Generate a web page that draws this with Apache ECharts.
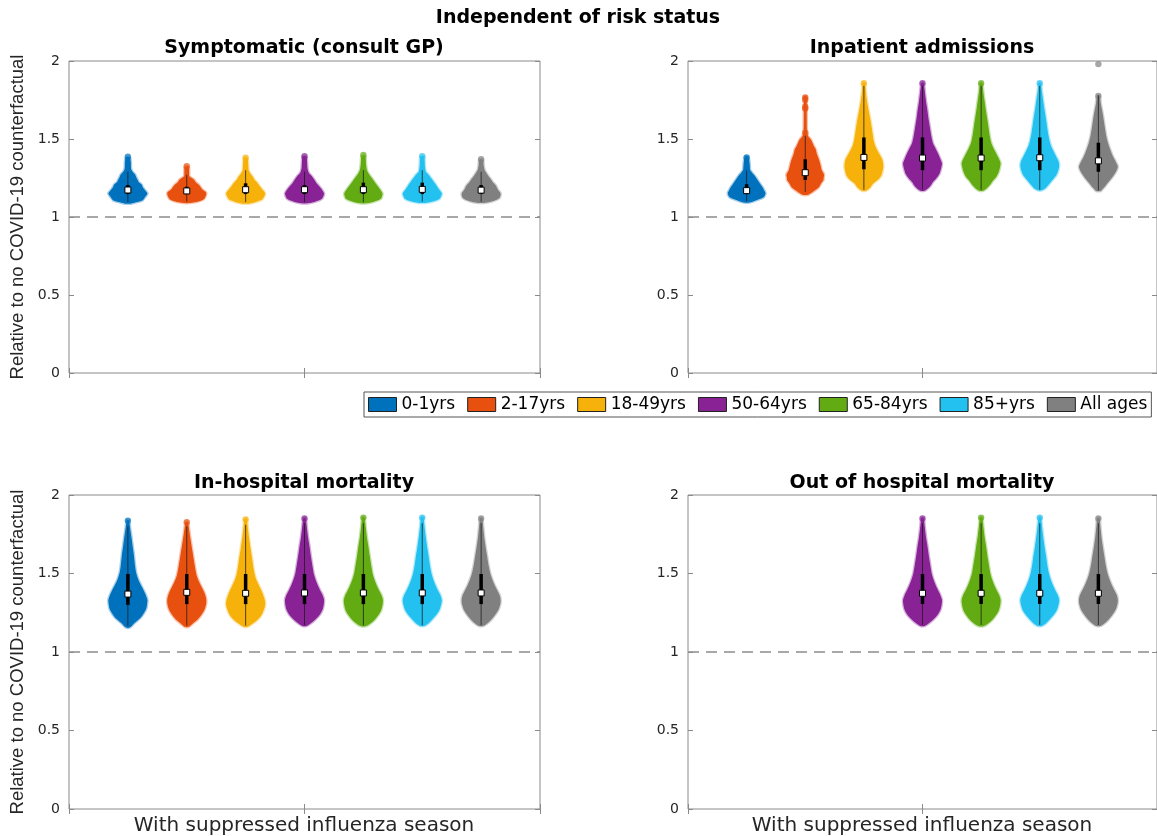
<!DOCTYPE html>
<html><head><meta charset="utf-8">
<script src="https://cdn.jsdelivr.net/npm/echarts@6/dist/echarts.min.js"></script>
<style>html,body{margin:0;padding:0;background:#fff}#c{width:1157px;height:836px}</style>
</head><body><div id="c"></div>
<script>
// ---------- DATA ----------
const groups = ['0-1yrs', '2-17yrs', '18-49yrs', '50-64yrs', '65-84yrs', '85+yrs', 'All ages'];
const panelTitles = ['Symptomatic (consult GP)', 'Inpatient admissions', 'In-hospital mortality', 'Out of hospital mortality'];
const mainTitle = 'Independent of risk status';
const yLabel = 'Relative to no COVID-19 counterfactual';
const xLabel = 'With suppressed influenza season';
const yTicks = [0, 0.5, 1, 1.5, 2];
const refLine = 1;

// Symptomatic (consult GP)
const sympMedian = [1.173, 1.167, 1.175, 1.175, 1.175, 1.177, 1.172];
const sympQ1 = [1.147, 1.147, 1.147, 1.147, 1.147, 1.147, 1.147];
const sympQ3 = [1.205, 1.194, 1.216, 1.205, 1.22, 1.22, 1.205];
const sympLo = [1.095, 1.098, 1.095, 1.095, 1.095, 1.098, 1.098];
const sympHi = [1.29, 1.27, 1.30, 1.29, 1.30, 1.30, 1.29];
const sympDots = [[1.387], [1.325], [1.38], [1.39], [1.397], [1.39], [1.37]];
const sympShape = [
  [[1.09,0.15],[1.096,0.35],[1.11,0.75],[1.125,0.85],[1.15,1.0],[1.173,0.85],[1.19,0.75],[1.205,0.7],[1.22,0.55],[1.237,0.48],[1.255,0.4],[1.27,0.35],[1.29,0.2],[1.31,0.13],[1.35,0.12],[1.38,0.08]],
  [[1.094,0.15],[1.10,0.5],[1.115,0.85],[1.13,0.95],[1.154,1.0],[1.173,0.8],[1.19,0.7],[1.205,0.6],[1.22,0.45],[1.237,0.35],[1.25,0.2],[1.26,0.1],[1.30,0.09],[1.32,0.08]],
  [[1.09,0.15],[1.098,0.45],[1.115,0.85],[1.15,1.0],[1.175,0.85],[1.195,0.72],[1.215,0.6],[1.235,0.45],[1.255,0.35],[1.28,0.2],[1.30,0.12],[1.34,0.1],[1.375,0.07]],
  [[1.092,0.15],[1.10,0.5],[1.12,0.9],[1.15,1.0],[1.175,0.88],[1.195,0.75],[1.215,0.6],[1.235,0.5],[1.26,0.35],[1.28,0.2],[1.31,0.12],[1.35,0.1],[1.385,0.07]],
  [[1.092,0.15],[1.10,0.5],[1.12,0.9],[1.15,0.98],[1.175,0.85],[1.2,0.7],[1.225,0.55],[1.25,0.4],[1.275,0.25],[1.30,0.15],[1.34,0.1],[1.39,0.07]],
  [[1.095,0.15],[1.105,0.6],[1.12,0.9],[1.15,1.0],[1.175,0.85],[1.2,0.72],[1.22,0.6],[1.245,0.45],[1.27,0.3],[1.29,0.15],[1.33,0.1],[1.385,0.07]],
  [[1.095,0.15],[1.105,0.6],[1.125,0.95],[1.15,1.0],[1.175,0.85],[1.2,0.75],[1.22,0.6],[1.245,0.45],[1.27,0.3],[1.30,0.15],[1.33,0.1],[1.365,0.07]]
];

// Inpatient admissions
const inpMedian = [1.169, 1.284, 1.382, 1.378, 1.378, 1.38, 1.36];
const inpQ1 = [1.147, 1.237, 1.306, 1.30, 1.30, 1.30, 1.29];
const inpQ3 = [1.21, 1.37, 1.51, 1.51, 1.51, 1.51, 1.476];
const inpLo = [1.10, 1.16, 1.175, 1.175, 1.175, 1.175, 1.17];
const inpHi = [1.30, 1.52, 1.84, 1.84, 1.84, 1.84, 1.78];
const inpDots = [[1.382], [1.767, 1.752, 1.707, 1.695, 1.541], [1.857], [1.857], [1.857], [1.857], [1.98, 1.776]];
const inpShape = [
  [[1.098,0.15],[1.109,0.44],[1.13,0.88],[1.152,0.97],[1.169,0.9],[1.184,0.84],[1.2,0.75],[1.216,0.66],[1.232,0.57],[1.248,0.48],[1.265,0.38],[1.28,0.27],[1.30,0.15],[1.33,0.13],[1.365,0.1],[1.385,0.06]],
  [[1.147,0.15],[1.162,0.35],[1.173,0.48],[1.194,0.7],[1.216,0.8],[1.237,0.93],[1.258,0.95],[1.27,0.97],[1.30,0.84],[1.33,0.78],[1.365,0.7],[1.408,0.57],[1.43,0.53],[1.45,0.44],[1.494,0.27],[1.515,0.12],[1.55,0.05],[1.77,0.03]],
  [[1.173,0.1],[1.19,0.3],[1.216,0.45],[1.245,0.75],[1.269,0.9],[1.30,0.97],[1.323,1.0],[1.365,0.95],[1.40,0.8],[1.43,0.66],[1.46,0.55],[1.494,0.48],[1.54,0.42],[1.579,0.37],[1.63,0.3],[1.686,0.21],[1.75,0.12],[1.80,0.07],[1.857,0.03]],
  [[1.173,0.1],[1.18,0.2],[1.20,0.38],[1.226,0.52],[1.25,0.7],[1.28,0.87],[1.31,0.95],[1.344,1.0],[1.375,0.9],[1.408,0.78],[1.44,0.65],[1.472,0.52],[1.52,0.43],[1.579,0.35],[1.63,0.28],[1.686,0.22],[1.74,0.15],[1.79,0.1],[1.857,0.03]],
  [[1.173,0.1],[1.185,0.25],[1.21,0.45],[1.235,0.6],[1.26,0.78],[1.29,0.9],[1.32,0.97],[1.345,1.0],[1.375,0.9],[1.41,0.75],[1.44,0.62],[1.475,0.5],[1.52,0.42],[1.57,0.36],[1.62,0.3],[1.68,0.22],[1.74,0.15],[1.80,0.08],[1.857,0.03]],
  [[1.175,0.1],[1.19,0.3],[1.215,0.48],[1.24,0.65],[1.27,0.85],[1.30,0.95],[1.33,1.0],[1.36,0.95],[1.39,0.82],[1.42,0.7],[1.45,0.58],[1.49,0.48],[1.54,0.4],[1.59,0.34],[1.64,0.28],[1.70,0.2],[1.76,0.13],[1.81,0.07],[1.857,0.03]],
  [[1.17,0.1],[1.173,0.13],[1.195,0.3],[1.216,0.43],[1.24,0.6],[1.269,0.78],[1.295,0.92],[1.323,1.0],[1.355,0.88],[1.387,0.74],[1.43,0.6],[1.472,0.48],[1.52,0.38],[1.579,0.3],[1.643,0.22],[1.69,0.15],[1.729,0.09],[1.776,0.04]]
];

// In-hospital mortality
const hospMedian = [1.369, 1.38, 1.374, 1.376, 1.376, 1.376, 1.376];
const hospQ1 = [1.30, 1.305, 1.305, 1.305, 1.305, 1.305, 1.305];
const hospQ3 = [1.497, 1.497, 1.497, 1.497, 1.497, 1.497, 1.497];
const hospLo = [1.165, 1.168, 1.168, 1.17, 1.168, 1.17, 1.17];
const hospHi = [1.80, 1.80, 1.81, 1.82, 1.82, 1.82, 1.82];
const hospDots = [[1.837], [1.826], [1.845], [1.851], [1.856], [1.856], [1.851]];
const hospShape = [
  [[1.161,0.1],[1.183,0.28],[1.20,0.45],[1.225,0.67],[1.25,0.82],[1.278,0.94],[1.305,0.98],[1.331,1.0],[1.36,0.92],[1.384,0.83],[1.415,0.7],[1.448,0.56],[1.48,0.46],[1.51,0.39],[1.56,0.33],[1.618,0.28],[1.67,0.22],[1.724,0.16],[1.79,0.08],[1.837,0.03]],
  [[1.165,0.1],[1.185,0.3],[1.21,0.55],[1.24,0.75],[1.27,0.9],[1.30,0.98],[1.33,1.0],[1.36,0.95],[1.39,0.85],[1.42,0.72],[1.45,0.6],[1.49,0.48],[1.54,0.4],[1.60,0.32],[1.66,0.24],[1.72,0.16],[1.78,0.09],[1.826,0.03]],
  [[1.165,0.1],[1.18,0.3],[1.21,0.62],[1.24,0.82],[1.27,0.93],[1.30,1.0],[1.33,0.98],[1.36,0.9],[1.39,0.8],[1.42,0.68],[1.45,0.56],[1.49,0.45],[1.54,0.37],[1.60,0.3],[1.66,0.22],[1.72,0.15],[1.79,0.08],[1.845,0.03]],
  [[1.17,0.1],[1.185,0.3],[1.21,0.55],[1.24,0.78],[1.27,0.92],[1.30,0.98],[1.33,1.0],[1.36,0.93],[1.39,0.8],[1.42,0.68],[1.46,0.55],[1.50,0.45],[1.55,0.38],[1.61,0.3],[1.67,0.23],[1.73,0.15],[1.80,0.08],[1.851,0.03]],
  [[1.168,0.1],[1.18,0.3],[1.205,0.55],[1.235,0.75],[1.265,0.9],[1.30,0.98],[1.33,1.0],[1.36,0.93],[1.39,0.8],[1.42,0.68],[1.46,0.55],[1.50,0.45],[1.55,0.38],[1.61,0.3],[1.67,0.23],[1.73,0.15],[1.80,0.08],[1.856,0.03]],
  [[1.17,0.1],[1.185,0.3],[1.21,0.5],[1.24,0.72],[1.27,0.88],[1.30,0.96],[1.33,1.0],[1.36,0.93],[1.39,0.8],[1.42,0.68],[1.46,0.55],[1.50,0.45],[1.55,0.37],[1.61,0.3],[1.67,0.22],[1.73,0.15],[1.80,0.08],[1.856,0.03]],
  [[1.17,0.1],[1.185,0.3],[1.21,0.52],[1.24,0.72],[1.27,0.88],[1.30,0.97],[1.33,1.0],[1.36,0.95],[1.39,0.83],[1.42,0.7],[1.46,0.56],[1.50,0.45],[1.55,0.36],[1.61,0.28],[1.67,0.2],[1.73,0.13],[1.80,0.07],[1.851,0.03]]
];

// Out of hospital mortality (only older groups)
const outMedian = [null, null, null, 1.374, 1.374, 1.374, 1.374];
const outQ1 = [null, null, null, 1.306, 1.306, 1.306, 1.306];
const outQ3 = [null, null, null, 1.497, 1.497, 1.497, 1.497];
const outLo = [null, null, null, 1.172, 1.172, 1.172, 1.172];
const outHi = [null, null, null, 1.82, 1.82, 1.82, 1.82];
const outDots = [null, null, null, [1.851], [1.856], [1.856], [1.851]];
const outShape = [null, null, null,
  [[1.17,0.1],[1.185,0.3],[1.21,0.55],[1.24,0.78],[1.27,0.92],[1.30,0.98],[1.33,1.0],[1.36,0.92],[1.39,0.8],[1.42,0.68],[1.46,0.55],[1.50,0.45],[1.55,0.38],[1.61,0.3],[1.67,0.23],[1.73,0.15],[1.80,0.08],[1.851,0.03]],
  [[1.168,0.1],[1.18,0.3],[1.205,0.55],[1.235,0.75],[1.265,0.9],[1.30,0.98],[1.33,1.0],[1.36,0.93],[1.39,0.8],[1.42,0.68],[1.46,0.55],[1.50,0.45],[1.55,0.38],[1.61,0.3],[1.67,0.23],[1.73,0.15],[1.80,0.08],[1.856,0.03]],
  [[1.17,0.1],[1.185,0.3],[1.21,0.5],[1.24,0.72],[1.27,0.88],[1.30,0.96],[1.33,1.0],[1.36,0.93],[1.39,0.8],[1.42,0.68],[1.46,0.55],[1.50,0.45],[1.55,0.37],[1.61,0.3],[1.67,0.22],[1.73,0.15],[1.80,0.08],[1.856,0.03]],
  [[1.17,0.1],[1.185,0.3],[1.21,0.52],[1.24,0.72],[1.27,0.88],[1.30,0.97],[1.33,1.0],[1.36,0.95],[1.39,0.83],[1.42,0.7],[1.46,0.56],[1.50,0.45],[1.55,0.36],[1.61,0.28],[1.67,0.2],[1.73,0.13],[1.80,0.07],[1.851,0.03]]
];

// ---------- STYLE ----------
const colors = ['#0072BD', '#E8500F', '#F6B10A', '#882295', '#62AB12', '#23C1F0', '#808080'];
const MAXW = 0.04;          // max half-width of a violin in x-axis units
const FRAME = '#8a8a8a';
const TXT = '#262626';

const panels = [
  {median: sympMedian, q1: sympQ1, q3: sympQ3, lo: sympLo, hi: sympHi, dots: sympDots, shape: sympShape},
  {median: inpMedian, q1: inpQ1, q3: inpQ3, lo: inpLo, hi: inpHi, dots: inpDots, shape: inpShape},
  {median: hospMedian, q1: hospQ1, q3: hospQ3, lo: hospLo, hi: hospHi, dots: hospDots, shape: hospShape},
  {median: outMedian, q1: outQ1, q3: outQ3, lo: outLo, hi: outHi, dots: outDots, shape: outShape}
];
const gridBoxes = [
  {left: 69, top: 61, width: 471, height: 312},
  {left: 688, top: 61, width: 470, height: 312},
  {left: 69, top: 495, width: 471, height: 314},
  {left: 688, top: 495, width: 470, height: 314}
];

const grid = [], xAxis = [], yAxis = [], series = [];
gridBoxes.forEach((b, i) => {
  grid.push(Object.assign({show: true, borderColor: FRAME, borderWidth: 1, backgroundColor: 'transparent'}, b));
  const xBase = {type: 'value', gridIndex: i, min: 0.5, max: 1.5, interval: 0.5,
    axisLine: {show: false}, splitLine: {show: false}, axisLabel: {show: false},
    axisTick: {show: true, inside: true, length: 5, lineStyle: {color: FRAME}}};
  xAxis.push(Object.assign({position: 'bottom'}, xBase));
  xAxis.push(Object.assign({position: 'top'}, xBase));
  const yBase = {type: 'value', gridIndex: i, min: yTicks[0], max: yTicks[yTicks.length - 1], interval: yTicks[1] - yTicks[0],
    axisLine: {show: false}, splitLine: {show: false},
    axisTick: {show: true, inside: true, length: 5, lineStyle: {color: FRAME}}};
  yAxis.push(Object.assign({position: 'left', axisLabel: {show: true, margin: 9, color: TXT, fontSize: 14, fontFamily: 'DejaVu Sans'}}, yBase));
  yAxis.push(Object.assign({position: 'right', axisLabel: {show: false}}, yBase));

  // reference line
  series.push({type: 'line', name: 'ref', xAxisIndex: 2 * i, yAxisIndex: 2 * i, data: [[0.5, refLine], [1.5, refLine]],
    symbol: 'none', silent: true, z: 1, lineStyle: {color: '#8c8c8c', width: 1.3, type: [11, 7]}});

  const p = panels[i];
  groups.forEach((name, g) => {
    if (!p.shape[g]) return;
    const pos = 1 + (g - 3) * 0.125;
    series.push({
      type: 'custom', name: name, xAxisIndex: 2 * i, yAxisIndex: 2 * i,
      itemStyle: {color: colors[g]}, z: 3, silent: true,
      data: [[pos, p.median[g]]],
      renderItem: function (params, api) {
        const x = api.value(0);
        const prof = p.shape[g];
        const right = prof.map(d => api.coord([x + d[1] * MAXW, d[0]]));
        const left = prof.slice().reverse().map(d => api.coord([x - d[1] * MAXW, d[0]]));
        const pts = right.concat(left);
        const c = colors[g];
        const children = [
          {type: 'polygon', shape: {points: pts, smooth: 0.2}, style: {fill: 'none', stroke: c, lineWidth: 4, opacity: 0.35}},
          {type: 'polygon', shape: {points: pts, smooth: 0.2}, style: {fill: c, stroke: c, lineWidth: 1.4}}
        ];
        (p.dots[g] || []).forEach(v => {
          const pt = api.coord([x, v]);
          children.push({type: 'circle', shape: {cx: pt[0], cy: pt[1], r: 3.2}, style: {fill: c, opacity: 0.7}});
        });
        const a = api.coord([x, p.lo[g]]), b = api.coord([x, p.hi[g]]);
        children.push({type: 'line', shape: {x1: a[0], y1: a[1], x2: b[0], y2: b[1]}, style: {stroke: '#1a1a1a', lineWidth: 1, opacity: 0.75}});
        const q1 = api.coord([x, p.q1[g]]), q3 = api.coord([x, p.q3[g]]);
        children.push({type: 'line', shape: {x1: q1[0], y1: q1[1], x2: q3[0], y2: q3[1]}, style: {stroke: '#000', lineWidth: 3.5}});
        const m = api.coord([x, p.median[g]]);
        children.push({type: 'rect', shape: {x: m[0] - 3, y: m[1] - 3, width: 6, height: 6}, style: {fill: '#fff', stroke: '#000', lineWidth: 1}});
        return {type: 'group', children: children};
      }
    });
  });
});

const graphic = [];
function txt(x, y, text, font, color, rot) {
  graphic.push({type: 'text', x: x, y: y, rotation: rot || 0, silent: true,
    style: {text: text, font: font, fill: color, textAlign: 'center', textVerticalAlign: 'middle'}});
}
txt(578, 18, mainTitle, 'bold 19px "DejaVu Sans"', '#000');
txt(304, 48, panelTitles[0], 'bold 19px "DejaVu Sans"', '#000');
txt(922, 48, panelTitles[1], 'bold 19px "DejaVu Sans"', '#000');
txt(304, 483, panelTitles[2], 'bold 19px "DejaVu Sans"', '#000');
txt(922, 483, panelTitles[3], 'bold 19px "DejaVu Sans"', '#000');
txt(18, 217, yLabel, '18.5px "Liberation Sans"', TXT, Math.PI / 2);
txt(18, 652, yLabel, '18.5px "Liberation Sans"', TXT, Math.PI / 2);
txt(304, 826, xLabel, '20px "DejaVu Sans"', TXT);
txt(922, 826, xLabel, '20px "DejaVu Sans"', TXT);

const chart = echarts.init(document.getElementById('c'), null, {renderer: 'canvas'});
chart.setOption({
  animation: false,
  backgroundColor: '#fff',
  grid: grid, xAxis: xAxis, yAxis: yAxis, series: series, graphic: graphic,
  legend: {
    data: groups, left: 364, top: 392, orient: 'horizontal', selectedMode: false,
    icon: 'rect', itemWidth: 28, itemHeight: 14, itemGap: 12, padding: [4, 4, 4, 4],
    borderColor: '#555', borderWidth: 1, backgroundColor: '#fff',
    itemStyle: {borderColor: '#222', borderWidth: 1},
    textStyle: {fontFamily: 'DejaVu Sans', fontSize: 17, color: '#000'}
  }
});
</script></body></html>
